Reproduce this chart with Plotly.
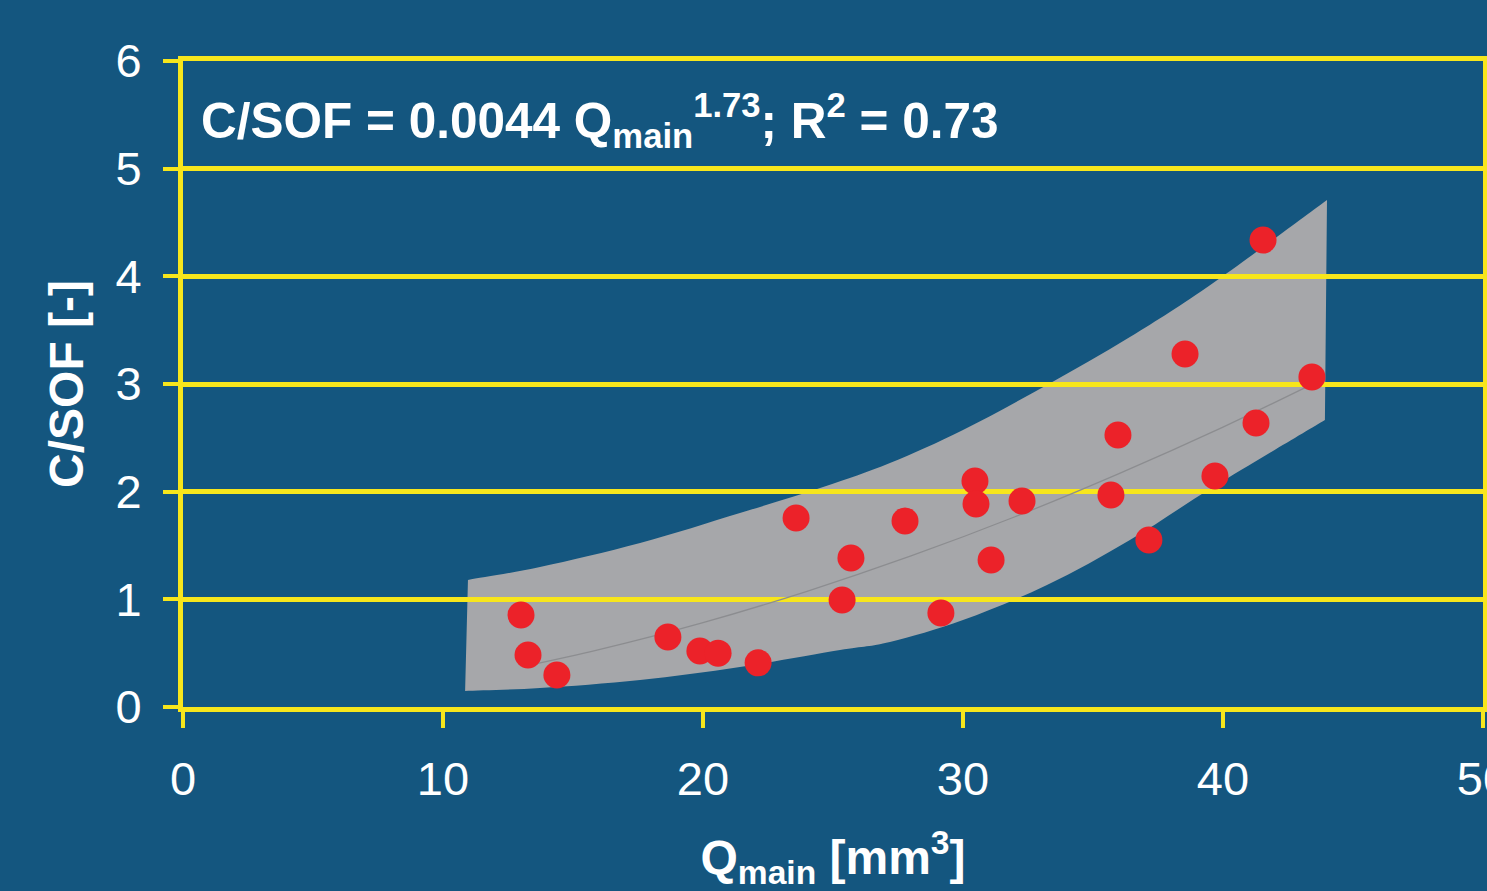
import plotly.graph_objects as go

# Data points (Q_main [mm^3], C/SOF [-])
q_main = [13.0, 13.27, 14.38, 18.65, 19.88, 20.58, 22.12, 23.58, 25.35, 25.69,
          27.77, 29.15, 30.46, 30.5, 31.08, 32.27, 35.69, 35.96, 37.15, 38.54,
          39.69, 41.27, 41.54, 43.42]
c_sof = [0.855, 0.483, 0.297, 0.65, 0.52, 0.50, 0.41, 1.755, 0.994, 1.384,
         1.728, 0.873, 2.099, 1.885, 1.365, 1.913, 1.969, 2.526, 1.551, 3.278,
         2.145, 2.638, 4.337, 3.065]

# Trend line
trend_x = [13.1, 16, 20, 24, 28, 32, 36, 40, 43.4]
trend_y = [0.377, 0.533, 0.784, 1.075, 1.403, 1.767, 2.168, 2.600, 2.994]

# Band edges
band_up_x = [10.96, 13.73, 17.58, 21.42, 24.62, 27.19, 30.0, 33.23, 36.42, 39.62, 44.0]
band_up_y = [1.180, 1.300, 1.523, 1.802, 2.043, 2.266, 2.573, 2.991, 3.436, 3.938, 4.709]
band_lo_x = [10.85, 13.73, 17.58, 21.42, 25.27, 27.19, 30.0, 33.23, 36.42, 39.62, 43.92]
band_lo_y = [0.149, 0.176, 0.251, 0.372, 0.529, 0.604, 0.808, 1.133, 1.551, 2.043, 2.666]

x_ticks = [0, 10, 20, 30, 40, 50]
y_ticks = [0, 1, 2, 3, 4, 5, 6]

BG = "#14567f"
YEL = "#f7e61c"
FONT = "Liberation Sans"


def smooth_segments(xs, ys):
    """Catmull-Rom curve through the points, as SVG cubic segments."""
    pts = list(zip(xs, ys))
    n = len(pts)
    segs = []
    for i in range(n - 1):
        p0 = pts[i - 1] if i > 0 else pts[i]
        p1 = pts[i]
        p2 = pts[i + 1]
        p3 = pts[i + 2] if i + 2 < n else pts[i + 1]
        c1 = (p1[0] + (p2[0] - p0[0]) / 6, p1[1] + (p2[1] - p0[1]) / 6)
        c2 = (p2[0] - (p3[0] - p1[0]) / 6, p2[1] - (p3[1] - p1[1]) / 6)
        segs.append(f"C {c1[0]},{c1[1]} {c2[0]},{c2[1]} {p2[0]},{p2[1]}")
    return " ".join(segs)


path = (f"M {band_up_x[0]},{band_up_y[0]} " + smooth_segments(band_up_x, band_up_y) +
        f" L {band_lo_x[-1]},{band_lo_y[-1]} " +
        smooth_segments(band_lo_x[::-1], band_lo_y[::-1]) + " Z")

fig = go.Figure()
fig.add_trace(go.Scatter(x=trend_x, y=trend_y, mode="lines",
                         line=dict(color="#8c8d90", width=1.3, shape="spline"),
                         hoverinfo="skip", showlegend=False))
fig.add_trace(go.Scatter(x=q_main, y=c_sof, mode="markers",
                         marker=dict(color="#ec2229", size=27, line=dict(width=0)),
                         showlegend=False))

fig.add_shape(type="path", path=path, xref="x", yref="y", layer="below",
              fillcolor="#a6a7aa", line=dict(width=0))

fig.add_annotation(x=0, y=5.45, xref="x", yref="y", xanchor="left", yanchor="middle",
                   xshift=16, showarrow=False,
                   text="<b>C/SOF = 0.0044 Q<sub>main</sub><sup>1.73</sup>; R<sup>2</sup> = 0.73</b>",
                   font=dict(family=FONT, size=49.5, color="white"))

fig.update_layout(
    width=1487, height=891,
    margin=dict(l=183, r=4, t=61, b=184),
    paper_bgcolor=BG, plot_bgcolor=BG,
    font=dict(family=FONT, color="white"),
    xaxis=dict(range=[0, 50], tickvals=x_ticks, ticktext=[str(v) for v in x_ticks],
               showgrid=False, zeroline=False, showline=True, mirror=True,
               linecolor=YEL, linewidth=5, ticks="outside", ticklen=16, tickwidth=4, tickcolor=YEL,
               tickfont=dict(size=47, color="white", family=FONT), ticklabelstandoff=11,
               ticklabeloverflow="allow",
               title=dict(text="<b>Q<sub>main</sub> [mm<sup>3</sup>]</b>", standoff=40,
                          font=dict(size=48, color="white", family=FONT)),
               automargin=False),
    yaxis=dict(range=[0, 6], tickvals=y_ticks, showgrid=True, gridcolor=YEL, gridwidth=4.5,
               zeroline=False, showline=True, mirror=True,
               linecolor=YEL, linewidth=5, ticks="outside", ticklen=15, tickwidth=4, tickcolor=YEL,
               tickfont=dict(size=47, color="white", family=FONT), ticklabelstandoff=12,
               title=dict(text="<b>C/SOF [-]</b>", standoff=18,
                          font=dict(size=48, color="white", family=FONT)),
               automargin=False),
)

fig.write_html("out.html")
